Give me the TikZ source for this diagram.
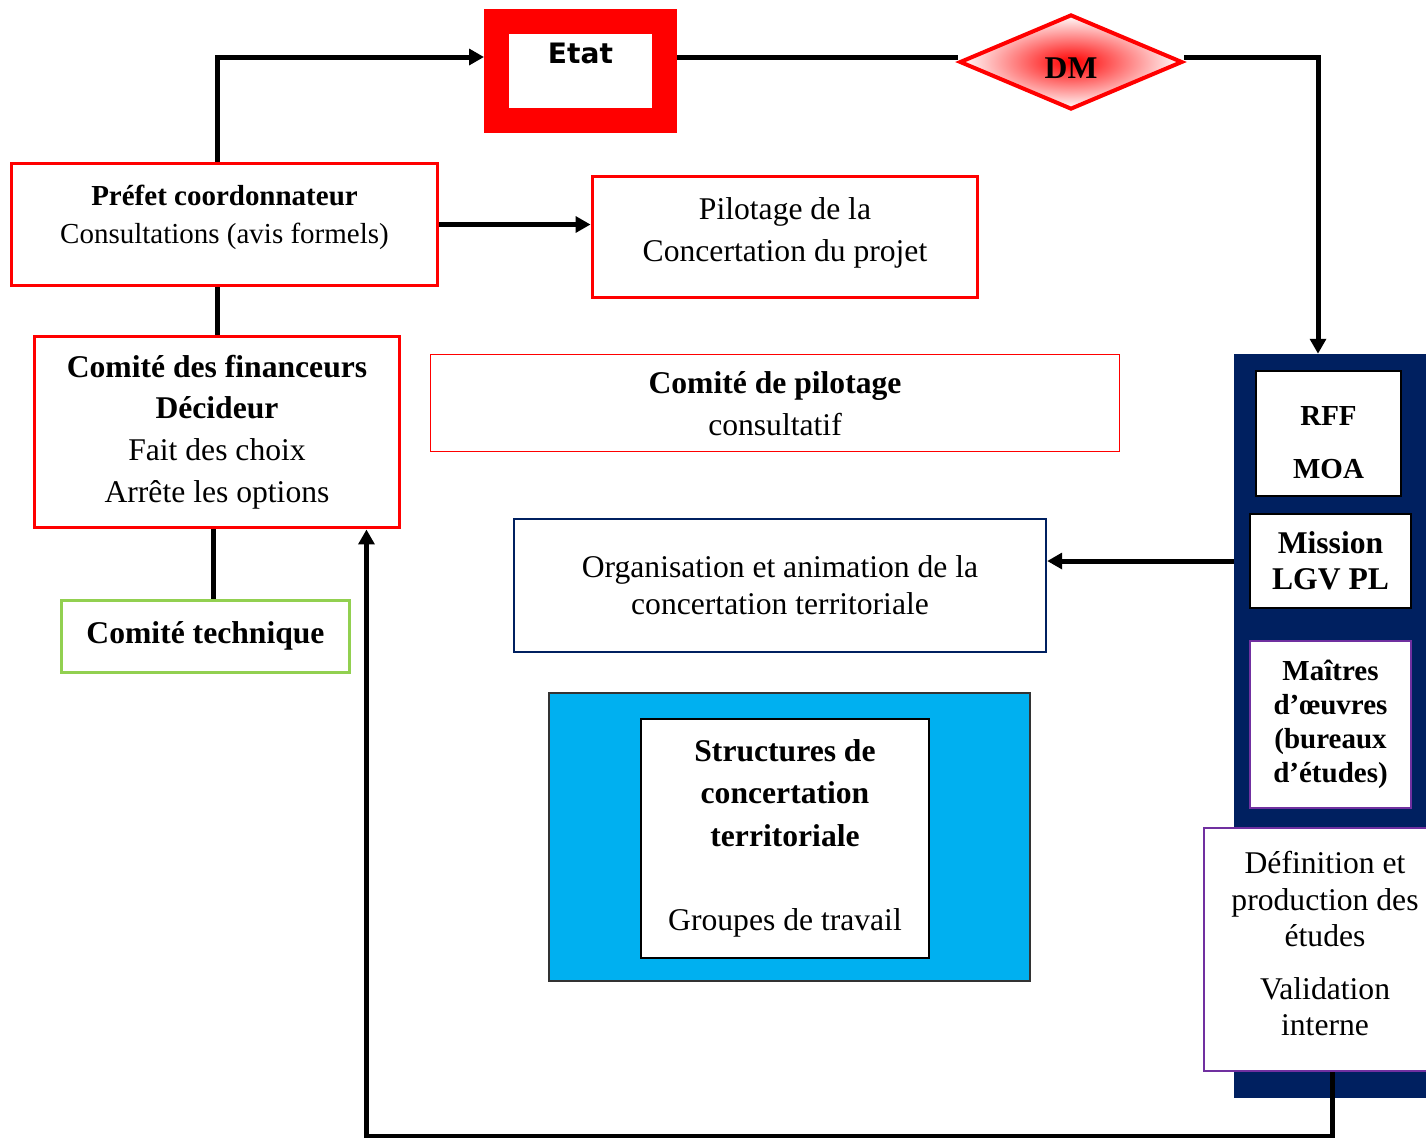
\documentclass[tikz,border=0pt]{standalone}
\usepackage{fontspec}
\setmainfont{Liberation Serif}
\newfontfamily\etatfont{DejaVu Sans}
\usepackage{tikz}
\usetikzlibrary{arrows.meta,shapes.geometric,positioning,calc}
\definecolor{lgvred}{RGB}{255,0,0}
\definecolor{lgvnavy}{RGB}{0,32,96}
\definecolor{lgvcyan}{RGB}{0,176,240}
\definecolor{lgvgreen}{RGB}{146,208,80}
\definecolor{lgvpurple}{RGB}{112,48,160}
\tikzstyle{arrow} = [line width=0.1cm,-{Triangle[length=8.5pt,width=9pt]}]
\tikzstyle{link} = [line width=0.1cm]
\tikzstyle{redbox} = [rectangle, draw=lgvred, line width=0.06cm, align=center, inner sep=0pt, font=\fontsize{18}{23.8}\selectfont]
\tikzstyle{whitebox} = [rectangle, draw=black, fill=white, line width=0.025cm, align=center, inner sep=0pt]

\begin{document}
\begin{tikzpicture}[x=0.02cm, y=-0.02cm]
\useasboundingbox (0,0) rectangle (1426,1137);

% top: Etat and DM
\node[rectangle, draw=lgvred, line width=0.5cm, minimum width=3.36cm, minimum height=1.98cm, inner sep=0pt, text depth=20.4pt, font=\etatfont\bfseries\fontsize{16}{19}\selectfont] (etat) at (580.5,71) {Etat};
\node[diamond, draw=lgvred, line width=0.08cm, inner color=lgvred, outer color=white, minimum width=4.46cm, minimum height=1.9cm, aspect=2.3, inner sep=0pt, text height=18.7pt, font=\bfseries\fontsize{18}{22}\selectfont] (dm) at (1071,62) {DM};

% left column
\node[redbox, minimum width=8.54cm, minimum height=2.46cm, text depth=12pt, font=\fontsize{16.5}{21.5}\selectfont] (prefet) at (224.5,224.5) {\textbf{Préfet coordonnateur}\\Consultations (avis formels)};
\node[redbox, minimum width=7.32cm, minimum height=3.84cm] (comfin) at (217,432) {\textbf{Comité des financeurs}\\\textbf{Décideur}\\Fait des choix\\Arrête les options};
\node[rectangle, draw=lgvgreen, line width=0.06cm, minimum width=5.78cm, minimum height=1.44cm, inner sep=0pt, font=\bfseries\fontsize{18}{22}\selectfont] (comtech) at (205.5,636) {Comité technique};

% middle column
\node[redbox, minimum width=7.72cm, minimum height=2.44cm, text depth=8.5pt] (pilot) at (785,237) {Pilotage de la\\Concertation du projet};
\node[redbox, line width=0.02cm, minimum width=13.8cm, minimum height=1.94cm, text height=38pt] (compil) at (775,402.5) {\textbf{Comité de pilotage}\\consultatif};
\node[rectangle, draw=lgvnavy, line width=0.05cm, minimum width=10.64cm, minimum height=2.66cm, align=center, inner sep=0pt, font=\fontsize{18}{21}\selectfont] (orga) at (780,585.5) {Organisation et animation de la\\concertation territoriale};
\node[rectangle, draw=black!80, fill=lgvcyan, line width=0.03cm, minimum width=9.62cm, minimum height=5.76cm] (structbg) at (789.5,837) {};
\node[whitebox, minimum width=5.76cm, minimum height=4.78cm, font=\fontsize{18}{24}\selectfont] (struct) at (785,838.5) {\textbf{Structures de}\\\textbf{concertation}\\\textbf{territoriale}\\[24pt]Groupes de travail};

% right column
\node[rectangle, fill=lgvnavy, minimum width=3.92cm, minimum height=14.88cm, inner sep=0pt] (moa) at (1332,726) {};
\node[whitebox, minimum width=2.9cm, minimum height=2.5cm, text height=51.5pt, font=\bfseries\fontsize{16.5}{19.5}\selectfont] (rff) at (1328.5,433.5) {RFF\\[11pt]MOA};
\node[whitebox, minimum width=3.22cm, minimum height=1.88cm, font=\bfseries\fontsize{18}{20.4}\selectfont] (mission) at (1330.5,561) {Mission\\LGV PL};
\node[whitebox, draw=lgvpurple, minimum width=3.22cm, minimum height=3.34cm, font=\bfseries\fontsize{16.5}{19.3}\selectfont] (maitres) at (1330.5,724.5) {Maîtres\\d’œuvres\\(bureaux\\d’études)};
\node[whitebox, draw=lgvpurple, line width=0.05cm, minimum width=4.84cm, minimum height=4.86cm, text depth=6.8pt, font=\fontsize{18}{20.7}\selectfont] (defin) at (1325,949.5) {Définition et\\production des\\études\\[9.3pt]Validation\\interne};

% connectors
\draw[arrow] (comfin.north |- prefet.north) |- ($(etat.west)+(0,-14)$);
\draw[link] ($(etat.east)+(0,-14)$) -- ($(dm.west)+(0,-5)$);
\draw[arrow] ($(dm.east)+(0,-5)$) -| ($(moa.north)+(-14,0)$);
\draw[arrow] (prefet.east) -- (prefet.east -| pilot.west);
\draw[link] (comfin.north) -- (comfin.north |- prefet.south);
\draw[link] ([xshift=-0.08cm]comfin.south) -- ([xshift=-0.08cm]comfin.south |- comtech.north);
\draw[arrow] (mission.west -| moa.west) -- (mission.west -| orga.east);
\draw[arrow] ($(defin.south)+(7,0)$) -- ++(0,64) -| ($(comfin.south east)+(-35,0)$);
\end{tikzpicture}
\end{document}
